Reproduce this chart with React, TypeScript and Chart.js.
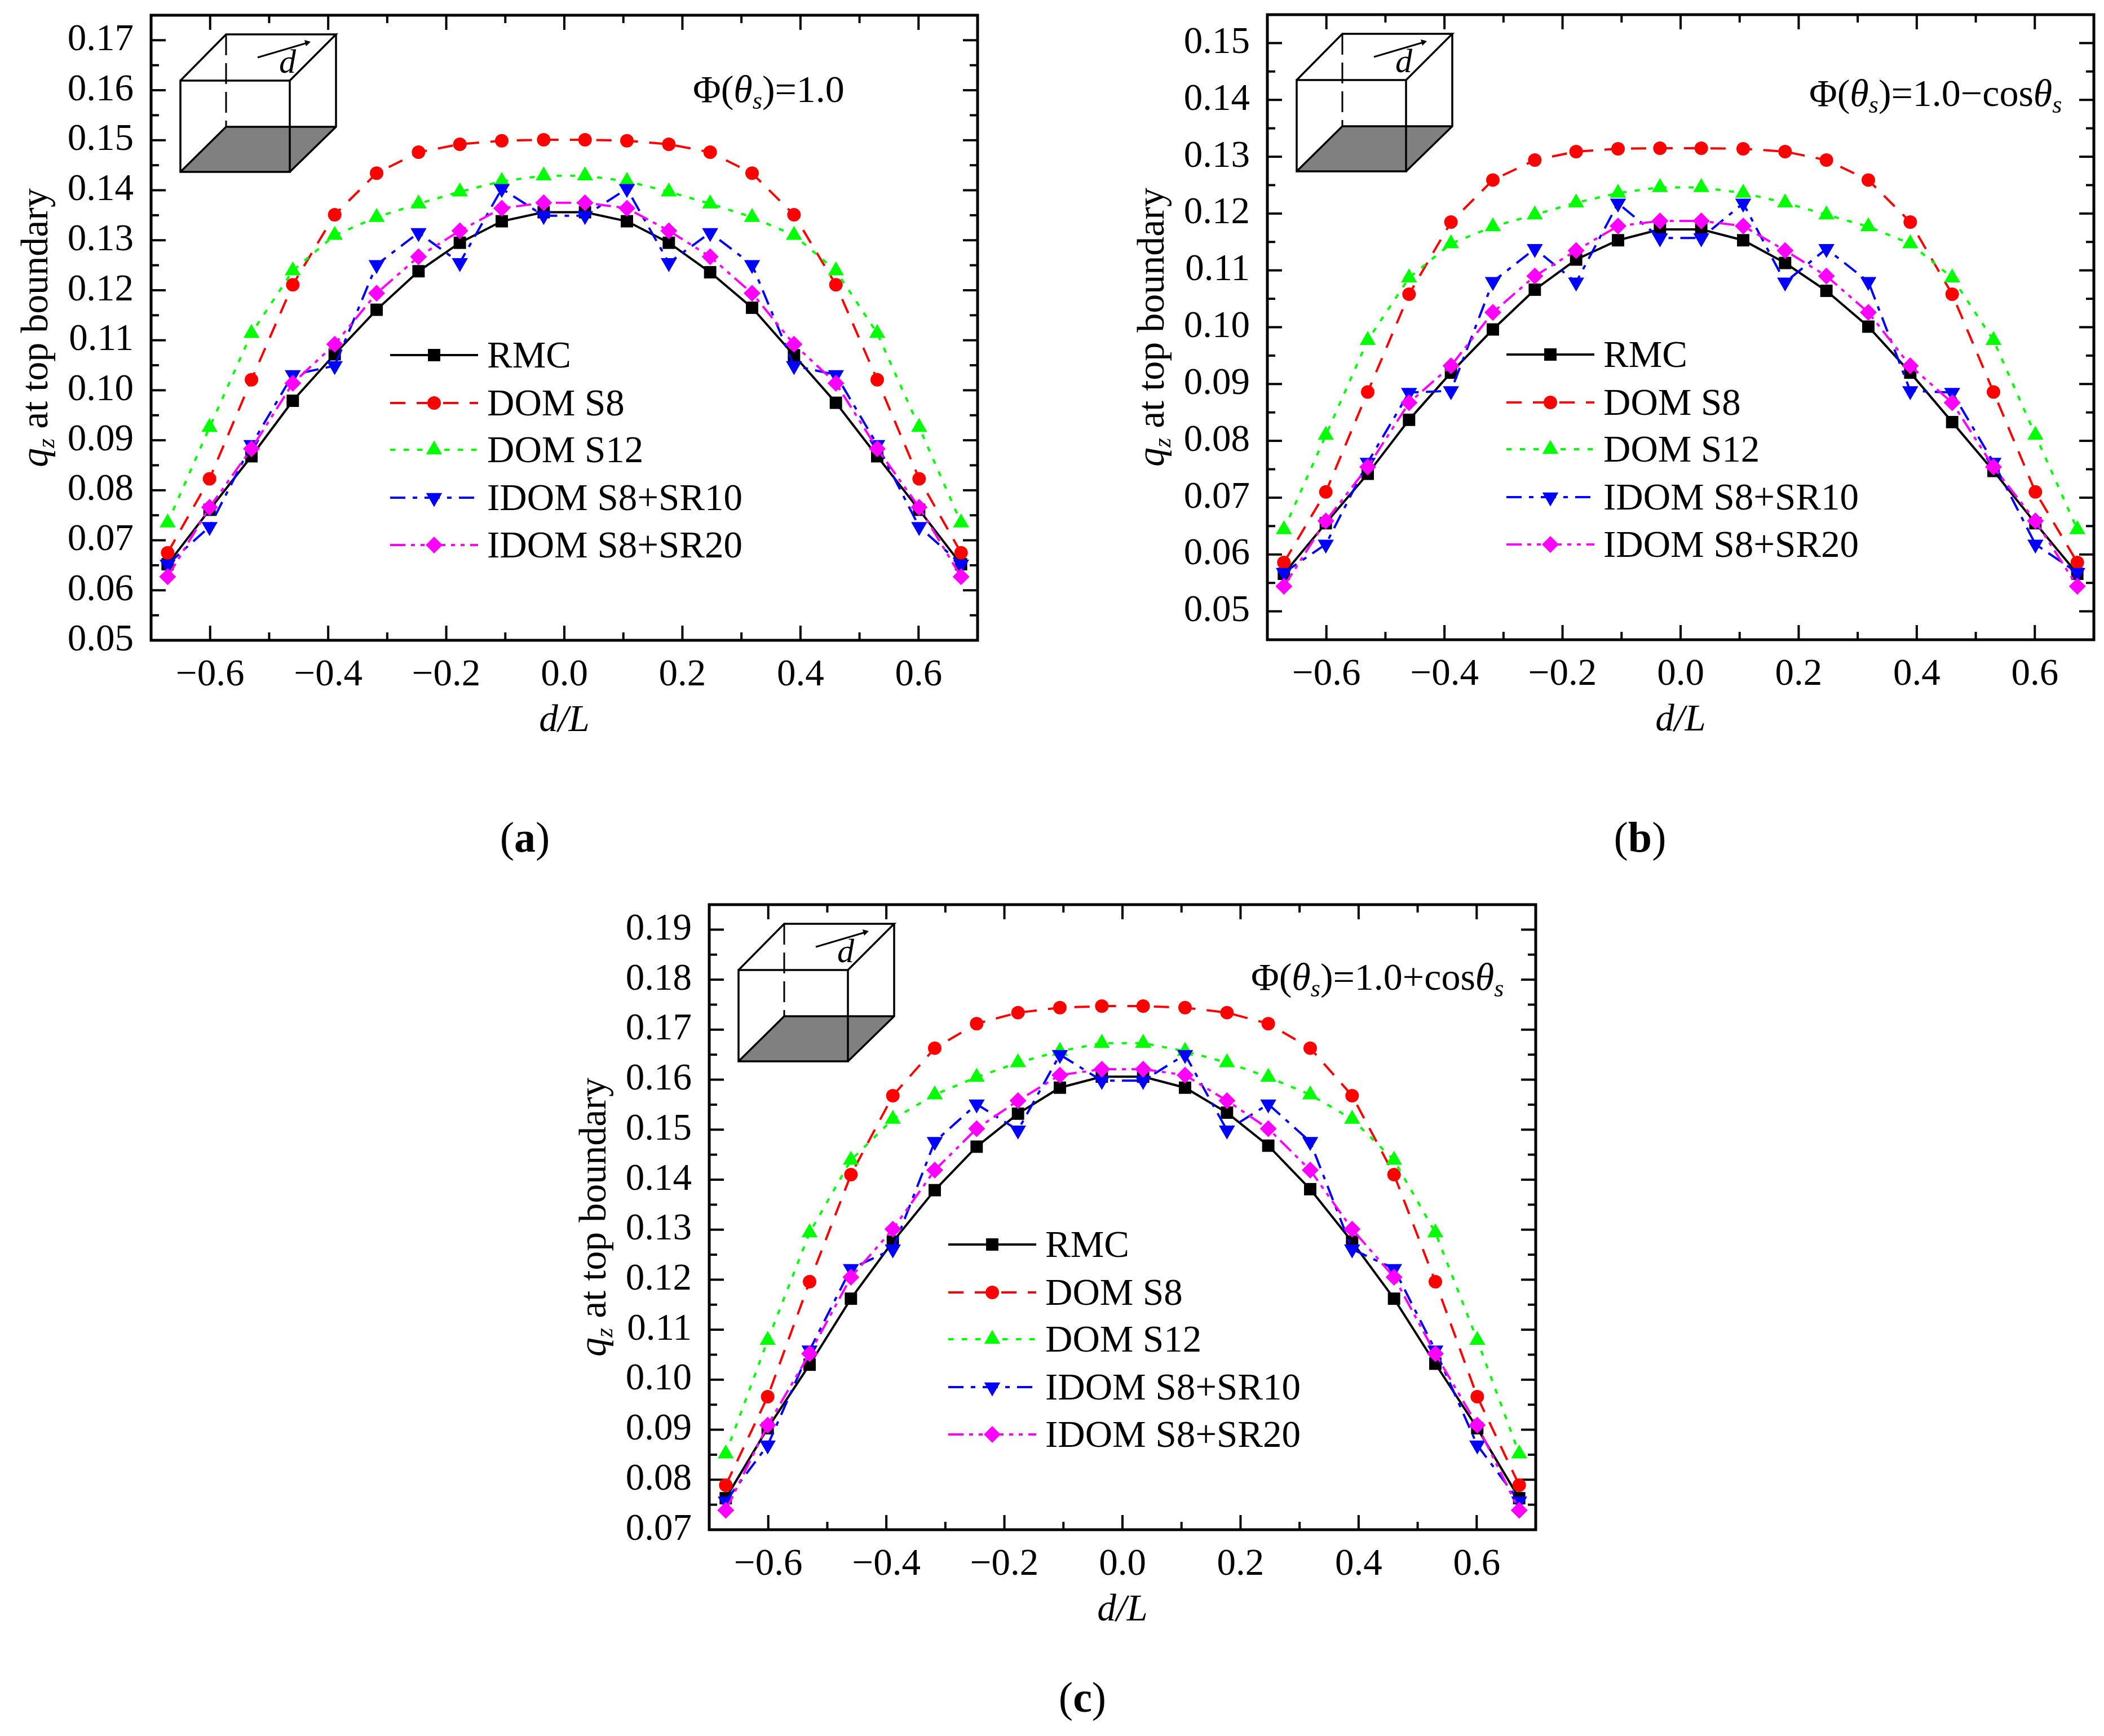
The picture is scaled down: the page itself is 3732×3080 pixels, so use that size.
import React, { useEffect, useRef } from "react";
import { Chart, registerables } from "chart.js";
import { drawPoint } from "chart.js/helpers";

Chart.register(...registerables);

// ---------- data ----------
const dOverL = [
  -0.672, -0.601, -0.530, -0.460, -0.389, -0.318, -0.247, -0.177, -0.106, -0.035,
  0.035, 0.106, 0.177, 0.247, 0.318, 0.389, 0.460, 0.530, 0.601, 0.672,
];

const seriesNames = ["RMC", "DOM S8", "DOM S12", "IDOM S8+SR10", "IDOM S8+SR20"];

const rmcA = [0.0652, 0.0761, 0.0868, 0.0979, 0.1072, 0.1161, 0.1238, 0.1295, 0.1338, 0.1356, 0.1356, 0.1338, 0.1295, 0.1236, 0.1165, 0.1070, 0.0975, 0.0868, 0.0761, 0.0652];
const s8A = [0.0675, 0.0823, 0.1021, 0.1211, 0.1351, 0.1434, 0.1476, 0.1492, 0.1499, 0.1501, 0.1501, 0.1499, 0.1492, 0.1476, 0.1434, 0.1351, 0.1211, 0.1021, 0.0823, 0.0675];
const s12A = [0.0735, 0.0926, 0.1114, 0.1239, 0.1310, 0.1346, 0.1373, 0.1397, 0.1418, 0.1429, 0.1429, 0.1418, 0.1397, 0.1373, 0.1346, 0.1310, 0.1239, 0.1114, 0.0926, 0.0735];
const sr10A = [0.0652, 0.0727, 0.0891, 0.1031, 0.1049, 0.1251, 0.1315, 0.1255, 0.1403, 0.1349, 0.1349, 0.1403, 0.1255, 0.1315, 0.1251, 0.1049, 0.1031, 0.0891, 0.0727, 0.0652];
const sr20A = [0.0627, 0.0766, 0.0883, 0.1014, 0.1092, 0.1194, 0.1267, 0.1319, 0.1364, 0.1375, 0.1375, 0.1364, 0.1319, 0.1267, 0.1194, 0.1092, 0.1014, 0.0883, 0.0766, 0.0627];

const rmcB = [0.0566, 0.0655, 0.0742, 0.0837, 0.0920, 0.0996, 0.1066, 0.1119, 0.1153, 0.1172, 0.1172, 0.1153, 0.1113, 0.1064, 0.1001, 0.0920, 0.0833, 0.0747, 0.0655, 0.0566];
const s8B = [0.0586, 0.0710, 0.0886, 0.1058, 0.1185, 0.1259, 0.1294, 0.1309, 0.1314, 0.1315, 0.1315, 0.1314, 0.1309, 0.1294, 0.1259, 0.1185, 0.1058, 0.0886, 0.0710, 0.0586];
const s12B = [0.0644, 0.0810, 0.0977, 0.1087, 0.1147, 0.1177, 0.1198, 0.1219, 0.1236, 0.1246, 0.1246, 0.1236, 0.1219, 0.1198, 0.1177, 0.1147, 0.1087, 0.0977, 0.0810, 0.0644];
const sr10B = [0.0568, 0.0618, 0.0762, 0.0885, 0.0888, 0.1080, 0.1138, 0.1079, 0.1218, 0.1157, 0.1157, 0.1218, 0.1079, 0.1138, 0.1080, 0.0888, 0.0885, 0.0762, 0.0618, 0.0568];
const sr20B = [0.0544, 0.0659, 0.0754, 0.0867, 0.0932, 0.1026, 0.1090, 0.1135, 0.1178, 0.1187, 0.1187, 0.1178, 0.1135, 0.1090, 0.1026, 0.0932, 0.0867, 0.0754, 0.0659, 0.0544];

const rmcC = [0.0763, 0.0903, 0.1030, 0.1162, 0.1276, 0.1379, 0.1466, 0.1532, 0.1584, 0.1606, 0.1606, 0.1584, 0.1534, 0.1468, 0.1381, 0.1276, 0.1162, 0.1032, 0.0903, 0.0763];
const s8C = [0.0789, 0.0966, 0.1196, 0.1410, 0.1568, 0.1663, 0.1712, 0.1734, 0.1744, 0.1747, 0.1747, 0.1744, 0.1734, 0.1712, 0.1663, 0.1568, 0.1410, 0.1196, 0.0966, 0.0789];
const s12C = [0.0852, 0.1079, 0.1294, 0.1439, 0.1521, 0.1570, 0.1605, 0.1634, 0.1657, 0.1673, 0.1673, 0.1657, 0.1634, 0.1605, 0.1570, 0.1521, 0.1439, 0.1294, 0.1079, 0.0852];
const sr10C = [0.0757, 0.0869, 0.1059, 0.1222, 0.1261, 0.1476, 0.1551, 0.1499, 0.1650, 0.1598, 0.1598, 0.1650, 0.1499, 0.1551, 0.1476, 0.1261, 0.1222, 0.1059, 0.0869, 0.0757];
const sr20C = [0.0739, 0.0909, 0.1052, 0.1205, 0.1301, 0.1419, 0.1502, 0.1558, 0.1609, 0.1621, 0.1621, 0.1609, 0.1558, 0.1502, 0.1419, 0.1301, 0.1205, 0.1052, 0.0909, 0.0739];

const xMajorTicks = [-0.6, -0.4, -0.2, 0, 0.2, 0.4, 0.6];
const xMinorTicks = [-0.5, -0.3, -0.1, 0.1, 0.3, 0.5];

const yMajorA = [0.05, 0.06, 0.07, 0.08, 0.09, 0.1, 0.11, 0.12, 0.13, 0.14, 0.15, 0.16, 0.17];
const yMinorA = [0.055, 0.065, 0.075, 0.085, 0.095, 0.105, 0.115, 0.125, 0.135, 0.145, 0.155, 0.165];
const yMajorB = [0.05, 0.06, 0.07, 0.08, 0.09, 0.1, 0.11, 0.12, 0.13, 0.14, 0.15];
const yMinorB = [0.055, 0.065, 0.075, 0.085, 0.095, 0.105, 0.115, 0.125, 0.135, 0.145];
const yMajorC = [0.07, 0.08, 0.09, 0.1, 0.11, 0.12, 0.13, 0.14, 0.15, 0.16, 0.17, 0.18, 0.19];
const yMinorC = [0.075, 0.085, 0.095, 0.105, 0.115, 0.125, 0.135, 0.145, 0.155, 0.165, 0.175, 0.185];

// ---------- styles ----------
const FONT = '"Liberation Serif"';
const FS = 67;
const styles = [
  { color: "#000000", dash: [], pointStyle: "rect", radius: 15.5, rotation: 0, order: 4 },
  { color: "#ff0000", dash: [27, 20], pointStyle: "circle", radius: 12, rotation: 0, order: 3 },
  { color: "#00ff00", dash: [9, 15], pointStyle: "triangle", radius: 16.5, rotation: 0, order: 2 },
  { color: "#0000ff", dash: [27, 13, 8, 13], pointStyle: "triangle", radius: 16.5, rotation: 180, order: 1 },
  { color: "#ff00ff", dash: [27, 10, 7, 10, 7, 10], pointStyle: "rectRot", radius: 15, rotation: 0, order: 0 },
];

type Run = { t: string; i?: boolean; sub?: boolean };

function runFont(r: Run, size: number) {
  return `${r.i ? "italic " : ""}${r.sub ? Math.round(size * 0.65) : size}px ${FONT}`;
}

function runWidth(ctx: CanvasRenderingContext2D, runs: Run[], size = FS) {
  let w = 0;
  for (const r of runs) {
    ctx.font = runFont(r, size);
    w += ctx.measureText(r.t).width;
  }
  return w;
}

function drawRuns(ctx: CanvasRenderingContext2D, x: number, y: number, runs: Run[], size = FS) {
  ctx.textAlign = "left";
  ctx.textBaseline = "alphabetic";
  ctx.fillStyle = "#000";
  let cx = x;
  for (const r of runs) {
    ctx.font = runFont(r, size);
    ctx.fillText(r.t, cx, r.sub ? y + 12 : y);
    cx += ctx.measureText(r.t).width;
  }
}

function drawCube(ctx: CanvasRenderingContext2D, ox: number, oy: number) {
  const L = ox + 52, R = ox + 246, BL = ox + 133, BR = ox + 328;
  const T = oy + 34, FT = oy + 116, BB = oy + 198, FB = oy + 278;
  ctx.save();
  ctx.fillStyle = "#808080";
  ctx.beginPath();
  ctx.moveTo(L, FB); ctx.lineTo(R, FB); ctx.lineTo(BR, BB); ctx.lineTo(BL, BB); ctx.closePath();
  ctx.fill();
  ctx.strokeStyle = "#000";
  ctx.lineWidth = 3.5;
  ctx.lineJoin = "miter";
  ctx.beginPath();
  ctx.rect(L, FT, R - L, FB - FT);
  ctx.moveTo(L, FT); ctx.lineTo(BL, T); ctx.lineTo(BR, T); ctx.lineTo(R, FT);
  ctx.moveTo(BR, T); ctx.lineTo(BR, BB); ctx.lineTo(R, FB);
  ctx.moveTo(BR, BB); ctx.lineTo(BL, BB); ctx.lineTo(L, FB);
  ctx.stroke();
  ctx.setLineDash([37, 14]);
  ctx.lineWidth = 3;
  ctx.beginPath();
  ctx.moveTo(BL, T); ctx.lineTo(BL, BB);
  ctx.stroke();
  ctx.setLineDash([]);
  // direction arrow
  const ax0 = ox + 189, ay0 = oy + 75, ax1 = ox + 283, ay1 = oy + 47;
  ctx.lineWidth = 3;
  ctx.beginPath();
  ctx.moveTo(ax0, ay0); ctx.lineTo(ax1 - 6, ay1 + 2);
  ctx.stroke();
  ctx.fillStyle = "#000";
  ctx.beginPath();
  ctx.moveTo(ax1, ay1); ctx.lineTo(ax1 - 11, ay1 - 3); ctx.lineTo(ax1 - 8, ay1 + 8); ctx.closePath();
  ctx.fill();
  ctx.font = `italic 60px ${FONT}`;
  ctx.textAlign = "left";
  ctx.textBaseline = "alphabetic";
  ctx.fillText("d", ox + 227, oy + 102);
  ctx.restore();
}

const LEGEND_YS = [603, 688, 771, 856, 940];

const figurePlugin = {
  id: "figure",
  beforeDatasetsDraw(chart: any, _a: any, opts: any) {
    const { ctx, chartArea: a, scales } = chart;
    ctx.save();
    ctx.strokeStyle = "#000";
    ctx.lineCap = "butt";
    const tick = (x0: number, y0: number, x1: number, y1: number) => {
      ctx.beginPath();
      ctx.moveTo(x0, y0);
      ctx.lineTo(x1, y1);
      ctx.stroke();
    };
    ctx.lineWidth = 4;
    const MAJ = 26, MIN = 14;
    for (const [list, len] of [[xMajorTicks, MAJ], [xMinorTicks, MIN]] as [number[], number][]) {
      for (const v of list) {
        const x = scales.x.getPixelForValue(v);
        tick(x, a.bottom, x, a.bottom - len);
        tick(x, a.top, x, a.top + len);
      }
    }
    for (const [list, len] of [[opts.yMajor, MAJ], [opts.yMinor, MIN]] as [number[], number][]) {
      for (const v of list) {
        const y = scales.y.getPixelForValue(v);
        tick(a.left, y, a.left + len, y);
        tick(a.right, y, a.right - len, y);
      }
    }
    ctx.lineWidth = 5;
    ctx.strokeRect(a.left, a.top, a.right - a.left, a.bottom - a.top);
    ctx.restore();
    drawCube(ctx, a.left, a.top);
  },
  afterDatasetsDraw(chart: any, _a: any, opts: any) {
    const { ctx, chartArea: a } = chart;
    ctx.save();
    // legend
    chart.data.datasets.forEach((ds: any, i: number) => {
      const y = a.top + LEGEND_YS[i];
      ctx.strokeStyle = ds.borderColor;
      ctx.lineWidth = ds.borderWidth;
      ctx.setLineDash(ds.borderDash);
      ctx.beginPath();
      ctx.moveTo(a.left + 424, y);
      ctx.lineTo(a.left + 580, y);
      ctx.stroke();
      ctx.setLineDash([]);
      ctx.fillStyle = ds.pointBackgroundColor;
      ctx.strokeStyle = ds.pointBorderColor;
      drawPoint(ctx, {
        pointStyle: ds.pointStyle,
        rotation: ds.pointRotation,
        radius: ds.pointRadius,
        borderWidth: 0,
      }, a.left + 502, y);
      ctx.font = `${FS}px ${FONT}`;
      ctx.fillStyle = "#000";
      ctx.textAlign = "left";
      ctx.textBaseline = "alphabetic";
      ctx.fillText(ds.label, a.left + 596, y + 22);
    });
    // annotation
    drawRuns(ctx, a.left + 961, a.top + opts.noteY, opts.note, 68);
    // x title
    const xt: Run[] = [{ t: "d/L", i: true }];
    drawRuns(ctx, (a.left + a.right) / 2 - runWidth(ctx, xt) / 2, a.bottom + 161, xt);
    // y title
    const yt: Run[] = [{ t: "q", i: true }, { t: "z", i: true, sub: true }, { t: " at top boundary" }];
    ctx.translate(a.left - 184, (a.top + a.bottom) / 2);
    ctx.rotate(-Math.PI / 2);
    drawRuns(ctx, -runWidth(ctx, yt, 68) / 2, 0, yt, 68);
    ctx.restore();
  },
};

const panels = [
  {
    id: "a", left: 0, top: 0, width: 1800, height: 1400,
    plot: { left: 268, top: 27, right: 1734, bottom: 1136 },
    yRange: [0.05, 0.175], yMajor: yMajorA, yMinor: yMinorA,
    series: [rmcA, s8A, s12A, sr10A, sr20A],
    note: [{ t: "Φ(" }, { t: "θ", i: true }, { t: "s", i: true, sub: true }, { t: ")=1.0" }] as Run[],
    noteY: 154,
  },
  {
    id: "b", left: 1950, top: 0, width: 1782, height: 1400,
    plot: { left: 298, top: 26, right: 1764, bottom: 1135 },
    yRange: [0.045, 0.155], yMajor: yMajorB, yMinor: yMinorB,
    series: [rmcB, s8B, s12B, sr10B, sr20B],
    note: [{ t: "Φ(" }, { t: "θ", i: true }, { t: "s", i: true, sub: true }, { t: ")=1.0−cos" }, { t: "θ", i: true }, { t: "s", i: true, sub: true }] as Run[],
    noteY: 162,
  },
  {
    id: "c", left: 960, top: 1560, width: 1800, height: 1400,
    plot: { left: 298, top: 45, right: 1764, bottom: 1154 },
    yRange: [0.07, 0.195], yMajor: yMajorC, yMinor: yMinorC,
    series: [rmcC, s8C, s12C, sr10C, sr20C],
    note: [{ t: "Φ(" }, { t: "θ", i: true }, { t: "s", i: true, sub: true }, { t: ")=1.0+cos" }, { t: "θ", i: true }, { t: "s", i: true, sub: true }] as Run[],
    noteY: 151,
  },
];

const captions = [
  { key: "a", cx: 931, baseline: 1511 },
  { key: "b", cx: 2909, baseline: 1511 },
  { key: "c", cx: 1920, baseline: 3037 },
];

const clearScalePadding = (s: any) => {
  s.paddingTop = 0;
  s.paddingBottom = 0;
  s.paddingLeft = 0;
  s.paddingRight = 0;
};

function Panel({ p }: { p: (typeof panels)[number] }) {
  const ref = useRef<HTMLCanvasElement | null>(null);
  useEffect(() => {
    const canvas = ref.current!;
    const chart = new Chart(canvas, {
      type: "line",
      data: {
        datasets: p.series.map((vals, i) => ({
          label: seriesNames[i],
          data: vals.map((y, k) => ({ x: dOverL[k], y })),
          borderColor: styles[i].color,
          borderWidth: 4,
          borderDash: styles[i].dash,
          backgroundColor: styles[i].color,
          pointBackgroundColor: styles[i].color,
          pointBorderColor: styles[i].color,
          pointBorderWidth: 0,
          pointStyle: styles[i].pointStyle,
          pointRadius: styles[i].radius,
          pointRotation: styles[i].rotation,
          order: styles[i].order,
          tension: 0,
          fill: false,
        })),
      },
      options: {
        animation: false,
        responsive: false,
        devicePixelRatio: 1,
        layout: {
          autoPadding: false,
          padding: {
            left: 0,
            top: p.plot.top,
            right: p.width - p.plot.right,
            bottom: 0,
          },
        },
        plugins: {
          legend: { display: false },
          tooltip: { enabled: false },
          figure: { yMajor: p.yMajor, yMinor: p.yMinor, note: p.note, noteY: p.noteY },
        },
        scales: {
          x: {
            type: "linear",
            min: -0.7,
            max: 0.7,
            grid: { display: false, drawTicks: false },
            border: { display: false },
            afterBuildTicks: (s: any) => {
              s.ticks = xMajorTicks.map((value) => ({ value }));
            },
            afterFit: (s: any) => {
              s.height = p.height - p.plot.bottom;
              clearScalePadding(s);
            },
            ticks: {
              autoSkip: false,
              maxRotation: 0,
              minRotation: 0,
              padding: 22,
              color: "#000",
              font: { family: FONT, size: FS },
              callback: (v: any) => {
                const n = Number(v);
                return (n < 0 ? "−" : "") + Math.abs(n).toFixed(1);
              },
            },
          },
          y: {
            type: "linear",
            min: p.yRange[0],
            max: p.yRange[1],
            grid: { display: false, drawTicks: false },
            border: { display: false },
            afterBuildTicks: (s: any) => {
              s.ticks = p.yMajor.map((value) => ({ value }));
            },
            afterFit: (s: any) => {
              s.width = p.plot.left;
              clearScalePadding(s);
            },
            ticks: {
              autoSkip: false,
              padding: 31,
              color: "#000",
              font: { family: FONT, size: FS },
              callback: (v: any) => Number(v).toFixed(2),
            },
          },
        },
      },
      plugins: [figurePlugin],
    } as any);
    return () => chart.destroy();
  }, []);
  return (
    <canvas
      ref={ref}
      width={p.width}
      height={p.height}
      style={{ position: "absolute", left: p.left, top: p.top, width: p.width, height: p.height }}
    />
  );
}

export default function App() {
  useEffect(() => {
    document.body.style.margin = "0";
    document.body.style.background = "#fff";
  }, []);
  return (
    <div style={{ position: "absolute", left: 0, top: 0, width: 3732, height: 3080, background: "#fff", overflow: "hidden" }}>
      {panels.map((p) => (
        <Panel key={p.id} p={p} />
      ))}
      {captions.map((c) => (
        <div
          key={c.key}
          style={{
            position: "absolute",
            left: c.cx - 100,
            width: 200,
            top: c.baseline - 68,
            textAlign: "center",
            fontFamily: FONT,
            fontSize: 76,
            lineHeight: "85px",
            color: "#000",
          }}
        >
          (<b>{c.key}</b>)
        </div>
      ))}
    </div>
  );
}
